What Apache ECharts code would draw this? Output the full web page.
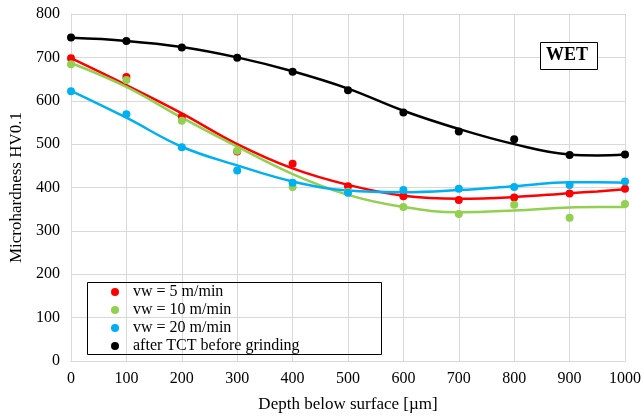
<!DOCTYPE html>
<html><head><meta charset="utf-8">
<script src="https://cdn.jsdelivr.net/npm/echarts@6/dist/echarts.min.js"></script>
<style>html,body{margin:0;padding:0;background:#fff}#c{width:644px;height:419px}</style>
</head><body><div id="c"></div>
<script>
// Measurement depths [µm]
const depths = [0, 100, 200, 300, 400, 500, 600, 700, 800, 900, 1000];
// Measured microhardness values
const vw5 = [698, 655, 563, 483, 455, 403, 380, 371, 377, 386, 397];
const vw10 = [684, 648, 554, 485, 401, 390, 355, 339, 360, 330, 362];
const vw20 = [622, 569, 493, 439, 411, 388, 394, 397, 401, 406, 414];
const tct = [746, 738, 723, 699, 667, 624, 573, 529, 511, 475, 476];
// Trend line values
const trendX = [0, 100, 200, 300, 400, 500, 600, 700, 800, 900, 950, 1000];
const trend5 = [698, 636, 571, 500, 444, 406, 381, 374, 378, 387, 391, 396];
const trend10 = [687, 632, 561, 494, 431, 383, 355, 343, 347, 354, 355, 355];
const trend20 = [623, 561, 494, 451, 414, 393, 389, 394, 403, 412, 412, 411];
const trendTct = [745, 738, 724, 700, 668, 628, 577, 535, 500, 476, 474, 476];
const names = ['vw = 5 m/min', 'vw = 10 m/min', 'vw = 20 m/min', 'after TCT before grinding'];
const colors = ['#ff0000', '#92d050', '#00b0f0', '#000000'];

const pts = [vw5, vw10, vw20, tct];
const trends = [trend5, trend10, trend20, trendTct];
const font = '"Liberation Serif", "Times New Roman", serif';

const series = [];
trends.forEach((t, i) => {
  series.push({
    type: 'line', name: names[i] + ' trend', data: trendX.map((x, k) => [x, t[k]]),
    smooth: 0.4, showSymbol: false, symbol: 'none', silent: true,
    lineStyle: { color: colors[i], width: 2.5 }, z: 2
  });
});
pts.forEach((p, i) => {
  series.push({
    type: 'scatter', name: names[i], data: depths.map((x, k) => [x, p[k]]),
    symbol: 'circle', symbolSize: 8, itemStyle: { color: colors[i], opacity: 1 }, z: 3
  });
});

const chart = echarts.init(document.getElementById('c'), null, { renderer: 'canvas' });
chart.setOption({
  animation: false,
  backgroundColor: '#fff',
  grid: { left: 71, right: 15, top: 14, bottom: 58 },
  xAxis: {
    type: 'value', min: 0, max: 1000, interval: 100,
    name: 'Depth below surface [µm]', nameLocation: 'middle', nameGap: 35,
    nameTextStyle: { fontFamily: font, fontSize: 17, color: '#000' },
    axisLine: { lineStyle: { color: '#d9d9d9', width: 1 } },
    axisTick: { show: false },
    axisLabel: { fontFamily: font, fontSize: 16, color: '#000', margin: 10, formatter: v => String(v) },
    splitLine: { show: true, lineStyle: { color: '#d9d9d9', width: 1 } }
  },
  yAxis: {
    type: 'value', min: 0, max: 800, interval: 100,
    name: 'Microhardness HV0.1', nameLocation: 'middle', nameGap: 42,
    nameTextStyle: { fontFamily: font, fontSize: 17, color: '#000' },
    axisLine: { show: true, lineStyle: { color: '#d9d9d9', width: 1 } },
    axisTick: { show: false },
    axisLabel: { fontFamily: font, fontSize: 16, color: '#000', margin: 11, formatter: v => String(v) },
    splitLine: { show: true, lineStyle: { color: '#d9d9d9', width: 1 } }
  },
  legend: {
    data: names, orient: 'vertical', left: 106, top: 278,
    itemWidth: 8, itemHeight: 8, itemGap: 0, icon: 'circle',
    textStyle: { fontFamily: font, fontSize: 16, lineHeight: 18, color: '#000', padding: [0, 0, 0, 9] }
  },
  graphic: [
    { type: 'rect', left: 87, top: 282, shape: { width: 294, height: 72 },
      style: { fill: 'transparent', stroke: '#000', lineWidth: 1 }, z: 10 },
    { type: 'rect', left: 540, top: 42, shape: { width: 57, height: 27 },
      style: { fill: '#fff', stroke: '#000', lineWidth: 1 }, z: 10 },
    { type: 'text', left: 546, top: 46,
      style: { text: 'WET', font: 'bold 18px ' + font, fill: '#000' }, z: 11 }
  ],
  series: series
});
</script></body></html>
